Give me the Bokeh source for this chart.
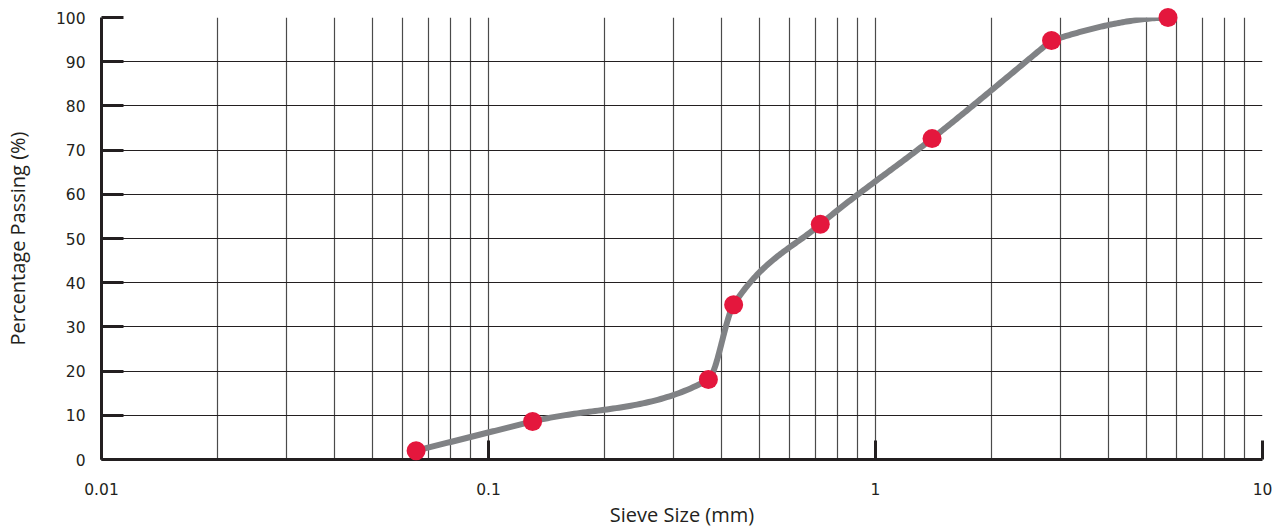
import numpy as np
from bokeh.plotting import figure
from bokeh.models import Range1d, FixedTicker, CustomJSTickFormatter, ColumnDataSource
from bokeh.embed import file_html
from bokeh.resources import INLINE

# ---- data ----
sieve_mm = [0.065, 0.13, 0.37, 0.43, 0.72, 1.4, 2.85, 5.7]
passing_pct = [2.0, 8.6, 18.1, 35.0, 53.2, 72.6, 94.8, 100.0]
x_major_ticks = [0.01, 0.1, 1, 10]
y_ticks = [0, 10, 20, 30, 40, 50, 60, 70, 80, 90, 100]
x_grid_ticks = [m * d for d in (0.01, 0.1, 1) for m in range(1, 10)] + [10]
# points where the drawn curve arrives in a straight line and then turns
corner_points = [6]


def smooth_curve(xs, ys, corners=(), n=60):
    """Monotone (PCHIP) cubic through the points, in log10(x)."""
    lx = np.log10(np.asarray(xs, float))
    y = np.asarray(ys, float)
    h = np.diff(lx)
    d = np.diff(y) / h
    m = np.zeros_like(y)
    for k in range(1, len(y) - 1):
        if d[k - 1] * d[k] > 0:
            w1 = 2 * h[k] + h[k - 1]
            w2 = h[k] + 2 * h[k - 1]
            m[k] = (w1 + w2) / (w1 / d[k - 1] + w2 / d[k])
    m[0] = d[0]
    m[-1] = d[-1] * 0.12
    m_in = m.copy()
    m_out = m.copy()
    for k in corners:
        m_in[k] = d[k - 1]
    outx, outy = [], []
    for k in range(len(h)):
        t = np.linspace(0, 1, n)
        h00 = 2 * t**3 - 3 * t**2 + 1
        h10 = t**3 - 2 * t**2 + t
        h01 = -2 * t**3 + 3 * t**2
        h11 = t**3 - t**2
        yy = h00 * y[k] + h10 * h[k] * m_out[k] + h01 * y[k + 1] + h11 * h[k] * m_in[k + 1]
        xx = lx[k] + t * h[k]
        outx.extend(10 ** xx)
        outy.extend(yy)
    return outx, outy


cx, cy = smooth_curve(sieve_mm, passing_pct, corner_points)

INK = "#231f20"
GRID = "#4a4a4a"

p = figure(
    width=1288, height=530,
    x_axis_type="log",
    x_range=Range1d(0.01, 10), y_range=Range1d(0, 100),
    output_backend="svg", toolbar_location=None,
    min_border_left=97, min_border_right=26, min_border_top=17, min_border_bottom=71,
)
p.outline_line_color = None
p.background_fill_color = "white"
p.border_fill_color = "white"

# grids
p.xgrid.ticker = FixedTicker(ticks=x_grid_ticks)
p.xgrid.grid_line_color = GRID
p.xgrid.grid_line_width = 1.2
p.ygrid.ticker = FixedTicker(ticks=y_ticks)
p.ygrid.grid_line_color = INK
p.ygrid.grid_line_width = 1.2

# axes
for ax in (p.xaxis[0], p.yaxis[0]):
    ax.axis_line_color = INK
    ax.axis_line_width = 3
    ax.major_tick_line_color = INK
    ax.major_tick_line_width = 3
    ax.major_tick_out = 0
    ax.minor_tick_line_color = None
    ax.major_label_text_font = "DejaVu Sans"
    ax.major_label_text_font_style = "normal"
    ax.major_label_text_font_size = "15.5px"
    ax.major_label_text_color = INK
    ax.axis_label_text_font = "Open Sans"
    ax.axis_label_text_font_style = "normal"
    ax.axis_label_text_font_size = "20px"
    ax.axis_label_text_color = INK

p.xaxis.ticker = FixedTicker(ticks=x_major_ticks)
p.xaxis.formatter = CustomJSTickFormatter(code="return String(tick);")
p.xaxis.major_tick_in = 19
p.xaxis.major_label_standoff = 23
p.xaxis.axis_label = "Sieve Size (mm)"
p.xaxis.axis_label_standoff = 3

p.yaxis.ticker = FixedTicker(ticks=y_ticks)
p.yaxis.major_tick_in = 22
p.yaxis.major_label_standoff = 16
p.yaxis.axis_label = "Percentage Passing (%)"
p.yaxis.axis_label_standoff = 22

# curve + points
p.line(cx, cy, line_color="#808285", line_width=6, line_cap="round", line_join="round")
src = ColumnDataSource(data=dict(x=sieve_mm, y=passing_pct))
p.scatter("x", "y", source=src, size=19, fill_color="#e4173d", line_color=None, level="overlay")

open("out.html", "w").write(file_html(p, INLINE))
